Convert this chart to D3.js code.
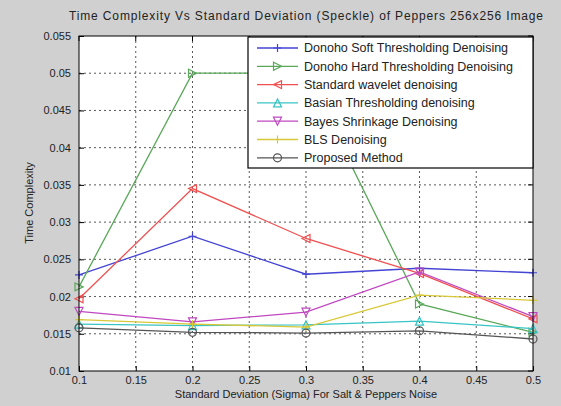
<!DOCTYPE html>
<html>
<head>
<meta charset="utf-8">
<script src="https://cdn.jsdelivr.net/npm/d3@7"></script>
<style>
  html, body { margin: 0; padding: 0; background: #d0d0d0; }
  svg { display: block; font-family: "Liberation Sans", Arial, sans-serif; }
</style>
</head>
<body>
<div id="chart"></div>
<script>
// Noise levels (sigma) on the x axis
const sigmas = [0.1, 0.2, 0.3, 0.4, 0.5];

// Time complexity for each denoising method
const donohoSoft   = [0.0229, 0.0281, 0.0230, 0.0238, 0.0232];
const donohoHard   = [0.0213, 0.0500, 0.0500, 0.0190, 0.0152];
const stdWavelet   = [0.0197, 0.0345, 0.0278, 0.0231, 0.0170];
const basian       = [0.0163, 0.0161, 0.0162, 0.0167, 0.0157];
const bayesShrink  = [0.0180, 0.0166, 0.0179, 0.0233, 0.0173];
const blsDenoise   = [0.0169, 0.0163, 0.0159, 0.0202, 0.0195];
const proposed     = [0.0158, 0.0152, 0.0151, 0.0154, 0.0143];

const seriesNames = [
  "Donoho Soft Thresholding Denoising",
  "Donoho Hard Thresholding Denoising",
  "Standard wavelet denoising",
  "Basian Thresholding denoising",
  "Bayes Shrinkage Denoising",
  "BLS Denoising",
  "Proposed Method"
];
const seriesValues = [donohoSoft, donohoHard, stdWavelet, basian, bayesShrink, blsDenoise, proposed];
const seriesColors = ["#4444d4", "#5aa85a", "#f05050", "#38c4c4", "#c048c0", "#d8c838", "#555555"];
const seriesMarkers = ["plus", "triRight", "triLeft", "triUp", "triDown", "plus", "circle"];

const xTicks = [0.1, 0.15, 0.2, 0.25, 0.3, 0.35, 0.4, 0.45, 0.5];
const yTicks = [0.01, 0.015, 0.02, 0.025, 0.03, 0.035, 0.04, 0.045, 0.05, 0.055];

const W = 561, H = 406;
const plot = { left: 79, right: 533, top: 36, bottom: 371 };

const svg = d3.select("#chart").append("svg").attr("width", W).attr("height", H);
svg.append("rect").attr("width", W).attr("height", H).attr("fill", "#d0d0d0");

const x = d3.scaleLinear().domain([0.1, 0.5]).range([plot.left, plot.right]);
const y = d3.scaleLinear().domain([0.01, 0.055]).range([plot.bottom, plot.top]);

// Plot area
svg.append("rect")
  .attr("x", plot.left).attr("y", plot.top)
  .attr("width", plot.right - plot.left).attr("height", plot.bottom - plot.top)
  .attr("fill", "#ffffff");

// Dotted grid
const grid = svg.append("g").attr("stroke", "#222").attr("stroke-width", 1)
  .attr("stroke-dasharray", "2,3").attr("opacity", 0.75);
grid.selectAll("line.gx").data(xTicks.slice(1, -1)).join("line")
  .attr("x1", d => x(d)).attr("x2", d => x(d))
  .attr("y1", plot.top).attr("y2", plot.bottom);
grid.selectAll("line.gy").data(yTicks.slice(1, -1)).join("line")
  .attr("x1", plot.left).attr("x2", plot.right)
  .attr("y1", d => y(d)).attr("y2", d => y(d));

// Axes with inward ticks
const fmt = d => String(d);
const xAxis = d3.axisBottom(x).tickValues(xTicks).tickFormat(fmt).tickSizeInner(-5).tickSizeOuter(0).tickPadding(8);
const yAxis = d3.axisLeft(y).tickValues(yTicks).tickFormat(fmt).tickSizeInner(-5).tickSizeOuter(0).tickPadding(8);

const gx = svg.append("g").attr("transform", `translate(0,${plot.bottom})`).call(xAxis);
const gy = svg.append("g").attr("transform", `translate(${plot.left},0)`).call(yAxis);
[gx, gy].forEach(g => {
  g.select(".domain").remove();
  g.selectAll("line").attr("stroke", "#000");
  g.selectAll("text").attr("fill", "#222").style("font-size", "11px");
});
gx.selectAll("text").attr("dy", "0.45em");

// Mirror ticks on top and right
svg.append("g").selectAll("line").data(xTicks).join("line")
  .attr("x1", d => x(d)).attr("x2", d => x(d))
  .attr("y1", plot.top).attr("y2", plot.top + 5).attr("stroke", "#000");
svg.append("g").selectAll("line").data(yTicks).join("line")
  .attr("x1", plot.right - 5).attr("x2", plot.right)
  .attr("y1", d => y(d)).attr("y2", d => y(d)).attr("stroke", "#000");

// Markers
function drawMarker(g, type, cx, cy, color) {
  const s = 4;
  if (type === "plus") {
    g.append("path").attr("d", `M${cx - s},${cy}H${cx + s}M${cx},${cy - s}V${cy + s}`)
      .attr("stroke", color).attr("stroke-width", 1.2).attr("fill", "none");
  } else if (type === "circle") {
    g.append("circle").attr("cx", cx).attr("cy", cy).attr("r", s)
      .attr("stroke", color).attr("fill", "none").attr("stroke-width", 1.2);
  } else {
    let pts;
    if (type === "triRight") pts = [[cx + s, cy], [cx - s, cy - s], [cx - s, cy + s]];
    if (type === "triLeft")  pts = [[cx - s, cy], [cx + s, cy - s], [cx + s, cy + s]];
    if (type === "triUp")    pts = [[cx, cy - s], [cx - s, cy + s], [cx + s, cy + s]];
    if (type === "triDown")  pts = [[cx, cy + s], [cx - s, cy - s], [cx + s, cy - s]];
    g.append("polygon").attr("points", pts.map(p => p.join(",")).join(" "))
      .attr("stroke", color).attr("fill", "none").attr("stroke-width", 1.2);
  }
}

// Series lines
const line = d3.line().x((d, i) => x(sigmas[i])).y(d => y(d));
const seriesG = svg.append("g");
seriesValues.forEach((vals, k) => {
  const g = seriesG.append("g");
  g.append("path").attr("d", line(vals)).attr("fill", "none")
    .attr("stroke", seriesColors[k]).attr("stroke-width", 1.3);
  vals.forEach((v, i) => drawMarker(g, seriesMarkers[k], x(sigmas[i]), y(v), seriesColors[k]));
});

// Axes box
svg.append("rect")
  .attr("x", plot.left).attr("y", plot.top)
  .attr("width", plot.right - plot.left).attr("height", plot.bottom - plot.top)
  .attr("fill", "none").attr("stroke", "#000").attr("stroke-width", 1);

// Legend
const lg = svg.append("g");
const lgBox = { x: 248, y: 37, w: 285, h: 131 };
lg.append("rect").attr("x", lgBox.x).attr("y", lgBox.y).attr("width", lgBox.w).attr("height", lgBox.h)
  .attr("fill", "#fff").attr("stroke", "#000").attr("stroke-width", 1.2);
seriesNames.forEach((name, k) => {
  const ry = 48 + k * 18.3;
  lg.append("line").attr("x1", 257).attr("x2", 298).attr("y1", ry).attr("y2", ry)
    .attr("stroke", seriesColors[k]).attr("stroke-width", 1.3);
  drawMarker(lg, seriesMarkers[k], 277.5, ry, seriesColors[k]);
  lg.append("text").attr("x", 304).attr("y", ry).attr("dy", "0.35em")
    .style("font-size", "12.5px").attr("fill", "#222").text(name);
});

// Titles
svg.append("text").attr("x", 306).attr("y", 20).attr("text-anchor", "middle")
  .style("font-size", "12px").attr("fill", "#222")
  .attr("textLength", 474).attr("lengthAdjust", "spacing")
  .text("Time Complexity Vs Standard Deviation (Speckle) of Peppers 256x256 Image");
svg.append("text").attr("x", 306).attr("y", 398).attr("text-anchor", "middle")
  .style("font-size", "11px").attr("fill", "#222")
  .text("Standard Deviation (Sigma) For Salt & Peppers Noise");
svg.append("text").attr("transform", "translate(33,203) rotate(-90)").attr("text-anchor", "middle")
  .style("font-size", "11px").attr("fill", "#222")
  .text("Time Complexity");
</script>
</body>
</html>
